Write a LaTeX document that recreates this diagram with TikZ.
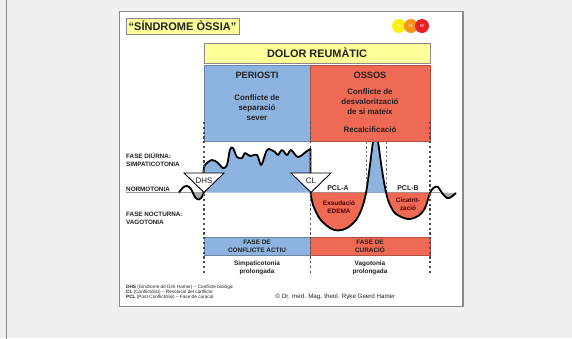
\documentclass[tikz,border=0pt]{standalone}
\usepackage{fontspec}
\setmainfont{Liberation Sans}
\definecolor{bgc}{HTML}{F0F0F0}
\definecolor{framec}{HTML}{8A8A8A}
\definecolor{bluec}{HTML}{8DB3DF}
\definecolor{redc}{HTML}{EF6A55}
\definecolor{yelc}{HTML}{FFFF99}
\definecolor{inkc}{HTML}{222222}
\definecolor{lineg}{HTML}{999999}
\definecolor{gy}{HTML}{FFEE10}
\definecolor{go}{HTML}{F7941D}
\definecolor{gr}{HTML}{E8202A}
\tikzset{
 box/.style={draw=#1!75!black, line width=.7pt, fill=#1, anchor=north west, inner sep=0pt, outer sep=0pt},
 head/.style={font=\bfseries\fontsize{9.2}{10}\selectfont, text=inkc},
 txt/.style={font=\bfseries\fontsize{7.9}{9.9}\selectfont, text=inkc, align=center},
 small/.style={font=\bfseries\fontsize{6.4}{8}\selectfont, text=inkc, align=center},
 pcl/.style={font=\bfseries\fontsize{7}{8}\selectfont, text=inkc, align=center},
 lab/.style={font=\bfseries\fontsize{6.3}{8}\selectfont, text=inkc, align=left, anchor=west, inner sep=0pt},
 leg/.style={font=\fontsize{4.7}{5}\selectfont, text=inkc, anchor=west, inner sep=0pt},
 trimark/.style={draw=black, line width=.9pt, fill=white},
 curve/.style={draw=black, line width=1.8pt, line join=round},
 guide/.style={draw=black!70, line width=1.1pt, dash pattern=on 2.2pt off 2.6pt},
 guideb/.style={draw=black!55, line width=1.3pt, dash pattern=on 2.2pt off 2.2pt},
 circ/.style={circle, minimum size=14pt, inner sep=0pt, font=\bfseries\fontsize{4.5}{5}\selectfont, text=white!70!#1}
}
\begin{document}
\begin{tikzpicture}[x=1pt,y=-1pt]
\useasboundingbox (0,0) rectangle (572,338);
\fill[bgc] (0,0) rectangle (572,338);
\draw[framec, line width=1.8pt] (6.5,-2) -- (6.5,340);
\draw[framec, line width=1.8pt, fill=white] (119.5,11.5) rectangle (463,306.5);

% title
\node[box=yelc, minimum width=113pt, minimum height=16pt, draw=framec] (title) at (126,18) {};
\node[font=\bfseries\fontsize{11}{12}\selectfont, text=inkc] at (title.center) {“SÍNDROME ÒSSIA”};
\node[circ=gy, fill=gy] (g) at (399,26) {G};
\node[circ=go, fill=go] (n) at (411,26) {N};
\node[circ=gr, fill=gr] (m) at (422,26) {M};

% normotonia base
\draw[lineg, line width=.8pt] (126,192.5) -- (204,192.5);
\draw[lineg, line width=.8pt] (310,192.5) -- (440,192.5);

% fills
\fill[bluec] plot[smooth,tension=.55] coordinates {(204,192.5)(203.5,172)(205,165)(212,160)(218,163)(223,168)(227,165)(230,149.5)(233,148)(237,157)(242,158)(245,153)(250,156)(257,155)(261,165)(265,155)(268,149)(275,152)(278,155)(282,150)(287,155)(291,150)(298,157)(307,151)(310.5,149)} -- (310.5,192.5) -- cycle;
\fill[lineg!80] plot[smooth,tension=.55] coordinates {(191.5,192.5)(195,197.5)(199,199.5)(203,195)(204,192.5)} -- cycle;
\fill[lineg!80] plot[smooth,tension=.55] coordinates {(440,192.5)(447,198)(451,197)(456,193)} -- cycle;
\fill[redc] plot[smooth,tension=.55] coordinates {(310.5,192.5)(313,205)(320,219)(330,228)(338,230.5)(347,228)(356,220)(362,208)(366,193)} -- cycle;
\fill[redc] plot[smooth,tension=.55] coordinates {(386,192.5)(390,205)(396,214)(408,219)(418,216)(425,208)(430,193)} -- cycle;
\fill[bluec] plot[smooth,tension=.55] coordinates {(366,192.5)(370,165)(373,142)(375.5,134)(378,142)(382,170)(386,192.5)} -- cycle;

% guides
\coordinate (t1) at (204,122); \coordinate (b1) at (204,273);
\coordinate (t2) at (310.5,122); \coordinate (b2) at (310.5,273);
\coordinate (t3) at (430,122); \coordinate (b3) at (430,273);
\coordinate (t4) at (366.5,142); \coordinate (b4) at (366.5,192);
\coordinate (t5) at (386.5,142); \coordinate (b5) at (386.5,192);
\draw[guideb] (t4) -- (b4);
\draw[guideb] (t5) -- (b5);

% curves
\draw[curve] plot[smooth,tension=.55] coordinates {(179,192.5)(183,187.5)(187,186)(191,189)(195,197)(199,199.5)(203,195)(204,185)(203.5,172)(205,165)(212,160)(218,163)(223,168)(227,165)(230,149.5)(233,148)(237,157)(242,158)(245,153)(250,156)(257,155)(261,165)(265,155)(268,149)(275,152)(278,155)(282,150)(287,155)(291,150)(298,157)(307,151)(310.5,149)} -- (310.5,192.5);
\draw[curve] plot[smooth,tension=.55] coordinates {(310.5,192.5)(313,205)(320,219)(330,228)(338,230.5)(347,228)(356,220)(362,208)(366,193)(370,165)(373,142)(375.5,134)(378,142)(382,170)(386,192.5)(390,205)(396,214)(408,219)(418,216)(425,208)(430,193)(434,187.5)(438,187)(442,193)(447,198)(451,197)(456,193)};

% top boxes
\node[box=yelc, minimum width=226pt, minimum height=20pt, draw=framec] (dolor) at (204,43) {};
\node[font=\bfseries\fontsize{10.9}{12}\selectfont, text=inkc] at (dolor.center) {DOLOR REUMÀTIC};
\node[box=bluec, minimum width=106.5pt, minimum height=76pt] (periosti) at (204,65) {};
\node[box=redc, minimum width=119.5pt, minimum height=76pt] (ossos) at (310.5,65) {};
\node[head] at (257,75) {PERIOSTI};
\node[head] at (370,75) {OSSOS};
\node[txt] at (257,108) {Conflicte de\\separació\\sever};
\node[txt] at (370,102) {Conflicte de\\desvalorització\\de si mateix};
\node[txt] at (370,130) {Recalcificació};

% bottom boxes
\node[box=bluec, minimum width=106.5pt, minimum height=18pt] (fa) at (204,237) {};
\node[box=redc, minimum width=119.5pt, minimum height=18pt] (fc) at (310.5,237) {};
\node[small] at (257,246) {FASE DE\\CONFLICTE ACTIU};
\node[small] at (370,246) {FASE DE\\CURACIÓ};
\node[small] at (257,268) {Simpaticotonia\\prolongada};
\node[small] at (370,268) {Vagotonia\\prolongada};

% main guides
\draw[guide] (t1) -- (b1);
\draw[guide] (t2) -- (b2);
\draw[guide] (t3) -- (b3);

% triangles
\path[trimark] (184,173) coordinate (da) -- (224,173) coordinate (db) -- (204,192.5) coordinate (dc) -- cycle;
\path[trimark] (291,173) coordinate (ca) -- (331,173) coordinate (cb) -- (311,192.5) coordinate (cc) -- cycle;
\node[font=\fontsize{8}{9}\selectfont, text=inkc, inner sep=0pt] (dhs) at (204,180.5) {DHS};
\node[font=\fontsize{8}{9}\selectfont, text=inkc, inner sep=0pt] (cl) at (311,181) {CL};

% curve labels
\node[pcl] at (338,188) {PCL-A};
\node[pcl] at (408,188) {PCL-B};
\node[small, text=black!70!red] at (339,207) {Exsudació\\EDEMA};
\node[small, text=black!70!red] at (408,204) {Cicatrit-\\zació};

% left labels
\node[lab] at (126,160) {FASE DIÜRNA:\\SIMPATICOTONIA};
\node[lab] at (126,189) {NORMOTONIA};
\node[lab] at (126,218) {FASE NOCTURNA:\\VAGOTONIA};

% legend
\node[leg] at (126,287) {\textbf{DHS} (Síndrome de Dirk Hamer) – Conflicte biològic};
\node[leg] at (126,292.3) {\textbf{CL} (Conflictòlisi) – Resolució del conflicte};
\node[leg] at (126,297.6) {\textbf{PCL} (Post-Conflictòlisi) – Fase de curació};
\node[font=\fontsize{6.2}{7}\selectfont, text=inkc, anchor=west, inner sep=0pt] at (275.5,297) {© Dr. med. Mag. theol. Ryke Geerd Hamer};
\end{tikzpicture}
\end{document}
